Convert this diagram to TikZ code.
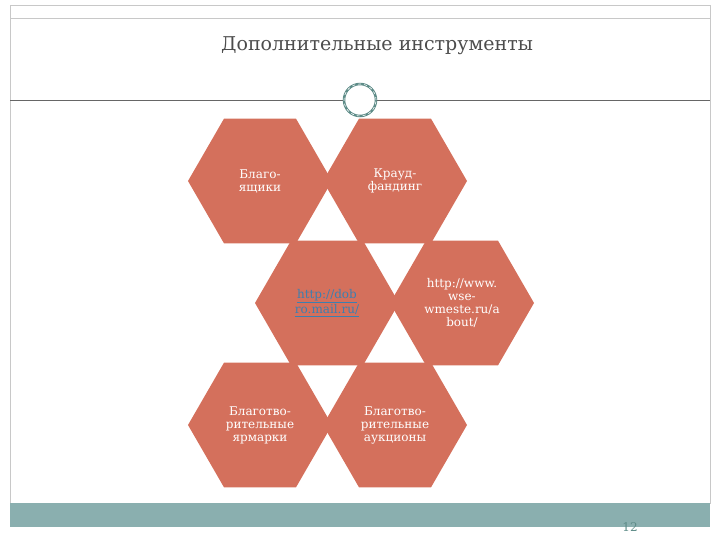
\documentclass[tikz,border=0pt]{standalone}
\usepackage{fontspec}
\setmainfont{DejaVu Serif}
\usetikzlibrary{shapes.geometric}
\definecolor{hexc}{HTML}{D4705C}
\definecolor{teal}{HTML}{8AAFAF}
\definecolor{ring}{HTML}{5E8C88}
\definecolor{frame}{HTML}{C8C8C8}
\definecolor{lnk}{HTML}{3C7FB0}
\begin{document}
\begin{tikzpicture}[x=1pt,y=-1pt,
  hexa/.style={regular polygon,regular polygon sides=6,minimum size=144pt,fill=hexc,inner sep=0pt,
    text=white,font=\fontsize{12}{13}\selectfont,align=center,text width=80pt}]
\useasboundingbox (0,0) rectangle (720,540);
\draw[frame] (10,5) rectangle (710,503);
\draw[frame] (10,18) -- (710,18);
\draw[gray!80!black] (10,100) -- (343,100) (377,100) -- (710,100);
\node[circle,draw=ring,line width=2.5pt,minimum size=32pt] (c) at (360,100) {};
\node[circle,draw=white,line width=0.6pt,dashed,minimum size=32pt] (c2) at (360,100) {};
\node[font=\fontsize{19}{20}\selectfont,text=black!70] (t) at (377,46) {Дополнительные инструменты};
\node[hexa] (h1) at (260,181) {Благо-\\ящики};
\node[hexa] (h2) at (395,181) {Крауд-\\фандинг};
\node[hexa] (h3) at (327,303) {\textcolor{lnk}{\underline{http://dob}}\\\textcolor{lnk}{\underline{ro.mail.ru/}}};
\node[hexa] (h4) at (462,303) {http://www.\\wse-\\wmeste.ru/a\\bout/};
\node[hexa] (h5) at (260,425) {Благотво-\\рительные\\ярмарки};
\node[hexa] (h6) at (395,425) {Благотво-\\рительные\\аукционы};
\fill[teal] (10,503) rectangle (710,527);
\node[text=ring,font=\fontsize{12}{12}\selectfont] (n) at (630,527) {12};
\end{tikzpicture}
\end{document}
